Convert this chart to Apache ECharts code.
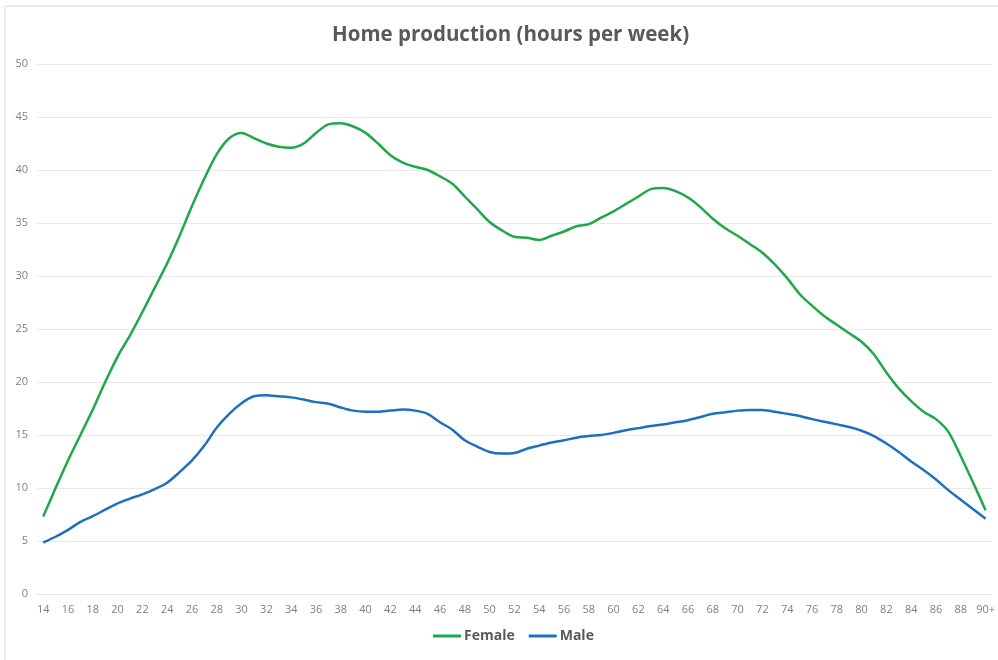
<html>
<head>
    <meta charset="utf-8">
    <title>Home production</title>
    <script src="https://cdn.jsdelivr.net/npm/echarts@6/dist/echarts.min.js"></script>
    <style>
        body { margin: 0; background: #fff; }
    </style>
</head>
<body>
<div id="main" style="width: 998px;height:660px;"></div>
<script type="text/javascript">
    // ages 14 .. 89, then 90+
    var ages = [];
    for (var a = 14; a <= 89; a++) ages.push(String(a));
    ages.push('90+');

    var female = [7.3, 10.0, 12.6, 15.0, 17.4, 20.0, 22.4, 24.4, 26.6, 28.9,
        31.2, 33.8, 36.6, 39.2, 41.5, 43.0, 43.5, 43.0, 42.5, 42.2,
        42.1, 42.5, 43.5, 44.3, 44.4, 44.1, 43.5, 42.5, 41.4, 40.7,
        40.3, 40.0, 39.4, 38.7, 37.5, 36.3, 35.1, 34.3, 33.7, 33.6,
        33.4, 33.8, 34.2, 34.7, 34.9, 35.5, 36.1, 36.8, 37.5, 38.2,
        38.3, 38.0, 37.4, 36.5, 35.4, 34.5, 33.8, 33.0, 32.2, 31.1,
        29.8, 28.3, 27.2, 26.2, 25.4, 24.6, 23.8, 22.6, 20.9, 19.4,
        18.2, 17.2, 16.5, 15.3, 13.0, 10.5, 7.9];

    var male = [4.86, 5.4, 6.05, 6.8, 7.35, 7.95, 8.55, 9.0, 9.4, 9.9,
        10.5, 11.5, 12.6, 14.0, 15.7, 17.0, 18.0, 18.65, 18.75, 18.65,
        18.55, 18.35, 18.1, 17.95, 17.6, 17.3, 17.2, 17.2, 17.3, 17.4,
        17.3, 17.0, 16.2, 15.5, 14.5, 13.9, 13.4, 13.25, 13.3, 13.7,
        14.0, 14.3, 14.5, 14.75, 14.9, 15.0, 15.2, 15.45, 15.65, 15.85,
        16.0, 16.2, 16.4, 16.7, 17.0, 17.15, 17.3, 17.37, 17.35, 17.2,
        17.0, 16.8, 16.5, 16.25, 16.0, 15.75, 15.4, 14.9, 14.2, 13.4,
        12.5, 11.7, 10.8, 9.8, 8.9, 8.0, 7.1];

    var myChart = echarts.init(document.getElementById('main'));
    myChart.setOption({
        animation: false,
        textStyle: { fontFamily: 'Open Sans' },
        title: {
            text: 'Home production (hours per week)',
            left: 327,
            top: 20,
            textStyle: { fontSize: 20.5, fontWeight: 'bold', color: '#595959' }
        },
        graphic: [{
            type: 'rect',
            shape: { x: 5, y: 6, width: 1000, height: 700 },
            style: { fill: 'none', stroke: '#d9d9d9', lineWidth: 1 }
        }],
        legend: {
            bottom: 12,
            left: 428,
            icon: 'rect',
            itemWidth: 28,
            itemHeight: 3,
            itemGap: 14,
            textStyle: { fontSize: 14, color: '#595959', fontWeight: 'bold', padding: [0, 0, 0, -2] },
            data: ['Female', 'Male']
        },
        grid: { left: 37, right: 5, top: 64, bottom: 66 },
        xAxis: {
            type: 'category',
            data: ages,
            boundaryGap: true,
            axisLine: { lineStyle: { color: '#e6e6e6' } },
            axisTick: { show: false },
            axisLabel: { interval: 1, color: '#7f7f7f', fontSize: 11, margin: 10 }
        },
        yAxis: {
            type: 'value',
            min: 0,
            max: 50,
            interval: 5,
            axisLine: { show: false },
            axisTick: { show: false },
            axisLabel: { color: '#7f7f7f', fontSize: 11, margin: 9 },
            splitLine: { lineStyle: { color: '#e9e9e9' } }
        },
        series: [{
            name: 'Female',
            type: 'line',
            data: female,
            smooth: 0.3,
            showSymbol: false,
            lineStyle: { color: '#1fa84a', width: 2.5 },
            itemStyle: { color: '#1fa84a' }
        }, {
            name: 'Male',
            type: 'line',
            data: male,
            smooth: 0.3,
            showSymbol: false,
            lineStyle: { color: '#1f6fbf', width: 2.5 },
            itemStyle: { color: '#1f6fbf' }
        }]
    });
</script>
</body>
</html>
